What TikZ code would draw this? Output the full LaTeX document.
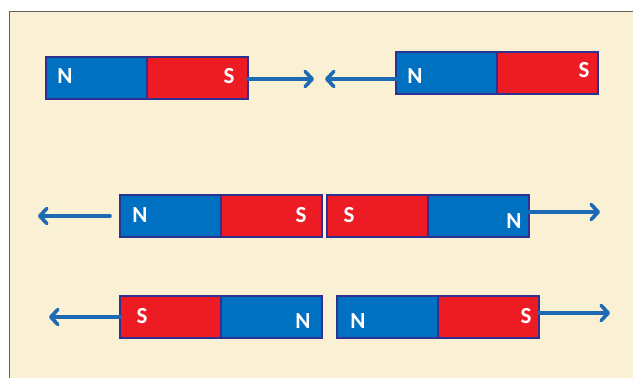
\documentclass[tikz,border=0pt]{standalone}
\usepackage{fontspec}
\setmainfont{Carlito}[BoldFont={Carlito Bold}]
\usetikzlibrary{arrows.meta}
\definecolor{bgbeige}{RGB}{250,241,212}
\definecolor{frame}{RGB}{95,95,95}
\definecolor{magblue}{RGB}{0,112,192}
\definecolor{magred}{RGB}{237,28,36}
\definecolor{navy}{RGB}{46,49,146}
\definecolor{arrblue}{RGB}{28,106,180}
\tikzset{
  half/.style={draw=navy, line width=1.3pt, minimum width=101pt, minimum height=42pt, inner sep=0pt, outer sep=0pt, anchor=north west},
  bluehalf/.style={half, fill=magblue},
  redhalf/.style={half, fill=magred},
  pole/.style={text=white, font=\bfseries\fontsize{23}{26}\selectfont, inner sep=0pt, anchor=center},
  force/.style={draw=arrblue, line width=3.6pt, line cap=round, -{Straight Barb[length=7pt, width=15pt, line cap=round, line join=round]}}
}
\begin{document}
\begin{tikzpicture}[x=1pt,y=-1pt]
\useasboundingbox (0,0) rectangle (633,378);
\fill[white] (0,0) rectangle (633,378);
\fill[bgbeige] (9,11) rectangle (633,378);
\draw[frame, line width=1pt] (9,378) -- (9,11) -- (633,11);

% row 1
\node[bluehalf] (m1a) at (46,57) {};
\node[redhalf] (m1b) at (147,57) {};
\node[pole] (l1a) at (65,76) {N};
\node[pole] (l1b) at (229,76) {S};
\coordinate (t1) at (314,79);
\draw[force] (m1b.east |- t1) -- (t1);

\node[bluehalf] (m2a) at (396,52) {};
\node[redhalf] (m2b) at (497,52) {};
\node[pole] (l2a) at (415,76) {N};
\node[pole] (l2b) at (584,70) {S};
\coordinate (t2) at (325,79);
\draw[force] (m2a.west |- t2) -- (t2);

% row 2
\node[bluehalf] (m3a) at (120,195) {};
\node[redhalf] (m3b) at (221,195) {};
\node[pole] (l3a) at (140,215) {N};
\node[pole] (l3b) at (301,215) {S};
\coordinate (t3) at (38,216);
\draw[force] (m3a.west |- t3) ++(-10,0) -- (t3);

\node[redhalf] (m4a) at (327,195) {};
\node[bluehalf] (m4b) at (428,195) {};
\node[pole] (l4a) at (349,215) {S};
\node[pole] (l4b) at (514,221) {N};
\coordinate (t4) at (600,212);
\draw[force] (m4b.east |- t4) -- (t4);

% row 3
\node[redhalf] (m5a) at (120,296) {};
\node[bluehalf] (m5b) at (221,296) {};
\node[pole] (l5a) at (142,316) {S};
\node[pole] (l5b) at (303,321) {N};
\coordinate (t5) at (49,317);
\draw[force] (m5a.west |- t5) -- (t5);

\node[bluehalf] (m6a) at (337,296) {};
\node[redhalf] (m6b) at (438,296) {};
\node[pole] (l6a) at (358,321) {N};
\node[pole] (l6b) at (526,316) {S};
\coordinate (t6) at (610,313);
\draw[force] (m6b.east |- t6) -- (t6);
\end{tikzpicture}
\end{document}
